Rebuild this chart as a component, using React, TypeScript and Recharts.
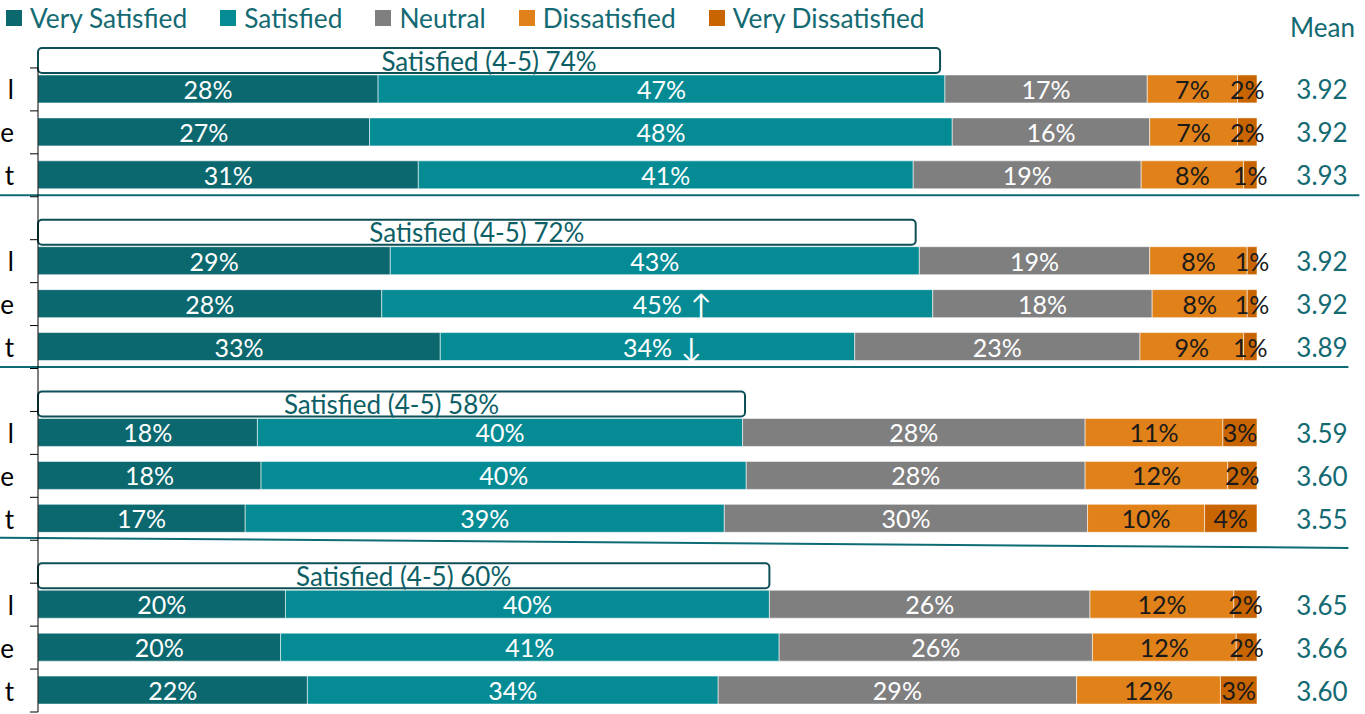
import { Bar, BarChart, LabelList, Legend, ReferenceLine, XAxis, YAxis } from 'recharts';

const W = 1365;
const H = 714;
const TOP = 25;
const BOTTOM = 2;
const FONT = 'Lato, "Open Sans", sans-serif';
const TEAL_TEXT = '#136a72';

// only the last letter of each row label is visible in the source
const rowLabels = ['l', 'e', 't'];
const satisfiedTotal = [74, 72, 58, 60];

const verySatisfied = [27.9, 27.2, 31.2, 28.9, 28.2, 33.0, 18.0, 18.3, 17.0, 20.3, 19.9, 22.1];
const satisfied = [46.5, 47.8, 40.6, 43.4, 45.2, 34.0, 39.8, 39.8, 39.3, 39.7, 40.9, 33.7];
const neutral = [16.6, 16.2, 18.7, 18.9, 18.0, 23.4, 28.1, 27.8, 29.8, 26.3, 25.7, 29.4];
const dissatisfied = [7.4, 7.2, 8.4, 8.0, 7.8, 8.5, 11.3, 11.7, 9.6, 11.8, 11.8, 11.8];
const veryDissatisfied = [1.6, 1.6, 1.1, 0.8, 0.8, 1.1, 2.8, 2.4, 4.3, 1.9, 1.7, 3.0];
const means = [3.92, 3.92, 3.93, 3.92, 3.92, 3.89, 3.59, 3.6, 3.55, 3.65, 3.66, 3.6];
const sigArrows = ['', '', '', '', '↑', '↓', '', '', '', '', '', ''];

const seriesKeys = ['vs', 'sat', 'neu', 'dis', 'vd'];
const seriesNames = ['Very Satisfied', 'Satisfied', 'Neutral', 'Dissatisfied', 'Very Dissatisfied'];
const seriesColors = ['#0b686e', '#058b94', '#7f7f7f', '#e08119', '#c96500'];
const labelColors = ['#ffffff', '#ffffff', '#ffffff', '#1a1a1a', '#1a1a1a'];

type Row = {
  key: string;
  label: string;
  box: number;
  vs: number;
  sat: number;
  neu: number;
  dis: number;
  vd: number;
  mean?: number;
  arrow?: string;
};

const rows: Row[] = [];
satisfiedTotal.forEach((total, g) => {
  rows.push({ key: `gap${g}`, label: '', box: total, vs: 0, sat: 0, neu: 0, dis: 0, vd: 0 });
  rowLabels.forEach((label, r) => {
    const i = g * 3 + r;
    rows.push({
      key: `row${i}`,
      label,
      box: 0,
      vs: verySatisfied[i],
      sat: satisfied[i],
      neu: neutral[i],
      dis: dissatisfied[i],
      vd: veryDissatisfied[i],
      mean: means[i],
      arrow: sigArrows[i] || undefined,
    });
  });
});

const rowByKey = new Map(rows.map((r) => [r.key, r]));
const HALF_BAND = (H - TOP - BOTTOM) / rows.length / 2;
const TICK_SIZE = 8;
const TICK_MARGIN = 16;

// category ticks sit on band boundaries, axis line starts below the first box
function LeftTick(props: any) {
  const { x, y, payload } = props;
  const row = rowByKey.get(payload.value);
  const axisX = x + TICK_SIZE + TICK_MARGIN;
  const lineTop = payload.value === 'gap0' ? y + HALF_BAND : y - HALF_BAND;
  return (
    <g>
      <line x1={axisX} x2={axisX} y1={lineTop} y2={y + HALF_BAND} stroke="#000" strokeWidth={1} />
      <line x1={axisX - TICK_SIZE} x2={axisX} y1={y + HALF_BAND} y2={y + HALF_BAND} stroke="#000" strokeWidth={1} />
      {row && row.label ? (
        <text x={x} y={y} textAnchor="end" dominantBaseline="central" fontSize={26} fontFamily={FONT} fill="#000">
          {row.label}
        </text>
      ) : null}
    </g>
  );
}

function MeanTick(props: any) {
  const { x, y, payload } = props;
  const row = rowByKey.get(payload.value);
  if (!row || row.mean == null) return <g />;
  return (
    <text x={x + 65} y={y} textAnchor="middle" dominantBaseline="central" fontSize={26} fontFamily={FONT} fill={TEAL_TEXT}>
      {row.mean.toFixed(2)}
    </text>
  );
}

const makeSegmentLabel = (color: string) => (props: any) => {
  const { x, y, width, height, value } = props;
  if (!value || !width) return null;
  return (
    <text
      x={x + width / 2}
      y={y + height / 2}
      textAnchor="middle"
      dominantBaseline="central"
      fontSize={25}
      fontFamily={FONT}
      fill={color}
    >
      {Math.round(value)}%
    </text>
  );
};

function ArrowLabel(props: any) {
  const { x, y, width, height, value } = props;
  if (!value) return null;
  return (
    <text x={x + width / 2 + 44} y={y + height / 2} textAnchor="middle" dominantBaseline="central" fontSize={28} fill="#ffffff">
      {value}
    </text>
  );
}

function BoxShape(props: any) {
  const { x, y, width, payload } = props;
  if (!payload || !payload.box || !width) return <g />;
  const top = y + 16;
  const h = 25;
  return (
    <g>
      <rect x={x} y={top} width={width} height={h} rx={4} ry={4} fill="#ffffff" stroke="#0d4f57" strokeWidth={2} />
      <text
        x={x + width / 2}
        y={top + h / 2}
        textAnchor="middle"
        dominantBaseline="central"
        fontSize={26}
        fontFamily={FONT}
        fill="#0d5f66"
      >
        Satisfied (4-5) {payload.box}%
      </text>
    </g>
  );
}

// separators run past the plot on both sides; ends given in % of the x scale
const separatorShape = (fromPct: number, toPct: number, dy1: number, dy2: number) => (p: any) => {
  const unit = (p.x2 - p.x1) / 100;
  return (
    <line
      x1={p.x1 + fromPct * unit}
      y1={p.y1 + dy1}
      x2={p.x1 + toPct * unit}
      y2={p.y2 + dy2}
      stroke="#0e6b73"
      strokeWidth={2}
    />
  );
};

function LegendContent() {
  return (
    <div style={{ position: 'relative', width: W, height: 0, fontFamily: FONT }}>
      <div style={{ position: 'absolute', left: 6, top: 1, display: 'flex', alignItems: 'center', whiteSpace: 'nowrap' }}>
        {seriesNames.map((name, i) => (
          <div key={name} style={{ display: 'flex', alignItems: 'center', marginRight: 33 }}>
            <span style={{ display: 'inline-block', width: 16, height: 16, background: seriesColors[i], marginRight: 8 }} />
            <span style={{ fontSize: 26.3, color: TEAL_TEXT, lineHeight: '34px' }}>{name}</span>
          </div>
        ))}
      </div>
      <div style={{ position: 'absolute', left: 1290, top: 10, fontSize: 26, color: TEAL_TEXT, lineHeight: '34px' }}>Mean</div>
    </div>
  );
}

export default function App() {
  return (
    <div
      style={{
        position: 'absolute',
        left: 0,
        top: 0,
        width: W,
        height: H,
        overflow: 'hidden',
        background: '#ffffff',
        fontFamily: FONT,
      }}
    >
      <BarChart
        width={W}
        height={H}
        data={rows}
        layout="vertical"
        barSize={28}
        margin={{ top: TOP, right: 0, bottom: BOTTOM, left: 0 }}
      >
        <XAxis type="number" domain={[0, 100]} hide />
        <YAxis
          type="category"
          dataKey="key"
          width={38}
          interval={0}
          tickSize={TICK_SIZE}
          tickMargin={TICK_MARGIN}
          tickLine={false}
          axisLine={false}
          tick={<LeftTick />}
        />
        <YAxis
          yAxisId="mean"
          orientation="right"
          type="category"
          dataKey="key"
          width={108}
          interval={0}
          tickSize={0}
          tickMargin={0}
          tickLine={false}
          axisLine={false}
          tick={<MeanTick />}
        />
        <Legend content={<LegendContent />} wrapperStyle={{ top: 0, left: 0, width: W, height: 0 }} />
        {seriesKeys.map((k, i) => (
          <Bar
            key={k}
            dataKey={k}
            name={seriesNames[i]}
            stackId="a"
            fill={seriesColors[i]}
            stroke="rgba(255,255,255,0.55)"
            strokeWidth={1}
            isAnimationActive={false}
          >
            <LabelList dataKey={k} content={makeSegmentLabel(labelColors[i])} />
            {k === 'sat' ? <LabelList dataKey="arrow" content={ArrowLabel} /> : null}
          </Bar>
        ))}
        <Bar dataKey="box" stackId="a" legendType="none" shape={BoxShape} isAnimationActive={false} />
        <ReferenceLine y="gap1" position="start" ifOverflow="visible" shape={separatorShape(-3.2, 108.4, -1.5, -1.5)} />
        <ReferenceLine y="gap2" position="start" ifOverflow="visible" shape={separatorShape(-3.2, 107.5, -1.5, -1.5)} />
        <ReferenceLine y="gap3" position="start" ifOverflow="visible" shape={separatorShape(-3.2, 107.5, -2.6, 7.7)} />
      </BarChart>
    </div>
  );
}
